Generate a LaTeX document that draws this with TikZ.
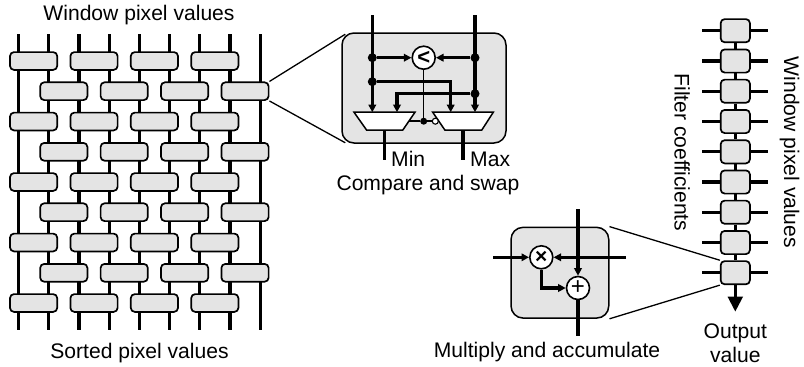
\documentclass[tikz,border=0pt]{standalone}
\usepackage{fontspec}
\setmainfont{Liberation Sans}
\usepackage{xcolor}
\usepackage{tikz}
\usetikzlibrary{arrows.meta,calc,backgrounds}
\definecolor{cell}{HTML}{E4E4E4}
\tikzset{
  wire/.style ={draw=black, line width=3.2pt},
  thin wire/.style={draw=black, line width=1.5pt},
  zoomline/.style={draw=black, line width=1.3pt},
  sbox/.style ={rectangle, draw=black, fill=cell, line width=1.7pt, rounded corners=4pt, minimum width=47.2pt, minimum height=17.8pt, inner sep=0pt},
  mbox/.style ={rectangle, draw=black, fill=cell, line width=1.7pt, rounded corners=4pt, minimum width=29.2pt, minimum height=23.2pt, inner sep=0pt},
  panel/.style={rectangle, draw=black, fill=cell, line width=1.5pt, rounded corners=12pt, inner sep=0pt},
  opnode/.style={circle, draw=black, fill=white, line width=1.6pt, minimum size=23pt, inner sep=0pt},
  jdot/.style ={circle, fill=black, minimum size=9pt, inner sep=0pt},
  bubble/.style={circle, draw=black, fill=white, line width=1.1pt, minimum size=6pt, inner sep=0pt},
  muxshape/.style={draw=black, fill=white, line width=1.5pt, line join=miter},
  lbl/.style ={font=\fontsize{21.1}{23.7}\selectfont, inner sep=0pt},
  >={Triangle[length=7.5pt,width=7.5pt]},
}
\begin{document}
\begin{tikzpicture}[x=1pt,y=-1pt]
\useasboundingbox (0,0) rectangle (804,367);
\coordinate (wt0) at (18.5,34); \coordinate (wb0) at (18.5,330); \draw[wire] (wt0) -- (wb0);
\coordinate (wt1) at (48.7,34); \coordinate (wb1) at (48.7,330); \draw[wire] (wt1) -- (wb1);
\coordinate (wt2) at (78.9,34); \coordinate (wb2) at (78.9,330); \draw[wire] (wt2) -- (wb2);
\coordinate (wt3) at (109.1,34); \coordinate (wb3) at (109.1,330); \draw[wire] (wt3) -- (wb3);
\coordinate (wt4) at (139.3,34); \coordinate (wb4) at (139.3,330); \draw[wire] (wt4) -- (wb4);
\coordinate (wt5) at (169.5,34); \coordinate (wb5) at (169.5,330); \draw[wire] (wt5) -- (wb5);
\coordinate (wt6) at (199.7,34); \coordinate (wb6) at (199.7,330); \draw[wire] (wt6) -- (wb6);
\coordinate (wt7) at (229.9,34); \coordinate (wb7) at (229.9,330); \draw[wire] (wt7) -- (wb7);
\coordinate (wt8) at (260.1,34); \coordinate (wb8) at (260.1,330); \draw[wire] (wt8) -- (wb8);

\node[sbox] (s00) at (33.6,61) {};
\node[sbox] (s01) at (94.0,61) {};
\node[sbox] (s02) at (154.4,61) {};
\node[sbox] (s03) at (214.8,61) {};
\node[sbox] (s10) at (63.8,91.2) {};
\node[sbox] (s11) at (124.2,91.2) {};
\node[sbox] (s12) at (184.6,91.2) {};
\node[sbox] (s13) at (245.0,91.2) {};
\node[sbox] (s20) at (33.6,121.5) {};
\node[sbox] (s21) at (94.0,121.5) {};
\node[sbox] (s22) at (154.4,121.5) {};
\node[sbox] (s23) at (214.8,121.5) {};
\node[sbox] (s30) at (63.8,151.8) {};
\node[sbox] (s31) at (124.2,151.8) {};
\node[sbox] (s32) at (184.6,151.8) {};
\node[sbox] (s33) at (245.0,151.8) {};
\node[sbox] (s40) at (33.6,182) {};
\node[sbox] (s41) at (94.0,182) {};
\node[sbox] (s42) at (154.4,182) {};
\node[sbox] (s43) at (214.8,182) {};
\node[sbox] (s50) at (63.8,212.2) {};
\node[sbox] (s51) at (124.2,212.2) {};
\node[sbox] (s52) at (184.6,212.2) {};
\node[sbox] (s53) at (245.0,212.2) {};
\node[sbox] (s60) at (33.6,242.5) {};
\node[sbox] (s61) at (94.0,242.5) {};
\node[sbox] (s62) at (154.4,242.5) {};
\node[sbox] (s63) at (214.8,242.5) {};
\node[sbox] (s70) at (63.8,272.8) {};
\node[sbox] (s71) at (124.2,272.8) {};
\node[sbox] (s72) at (184.6,272.8) {};
\node[sbox] (s73) at (245.0,272.8) {};
\node[sbox] (s80) at (33.6,303) {};
\node[sbox] (s81) at (94.0,303) {};
\node[sbox] (s82) at (154.4,303) {};
\node[sbox] (s83) at (214.8,303) {};

\coordinate (sl0) at (702,30.7); \coordinate (sr0) at (768,30.7); \draw[wire] (sl0) -- (sr0);
\coordinate (sl1) at (702,61); \coordinate (sr1) at (768,61); \draw[wire] (sl1) -- (sr1);
\coordinate (sl2) at (702,91.2); \coordinate (sr2) at (768,91.2); \draw[wire] (sl2) -- (sr2);
\coordinate (sl3) at (702,121.5); \coordinate (sr3) at (768,121.5); \draw[wire] (sl3) -- (sr3);
\coordinate (sl4) at (702,151.8); \coordinate (sr4) at (768,151.8); \draw[wire] (sl4) -- (sr4);
\coordinate (sl5) at (702,182); \coordinate (sr5) at (768,182); \draw[wire] (sl5) -- (sr5);
\coordinate (sl6) at (702,212.2); \coordinate (sr6) at (768,212.2); \draw[wire] (sl6) -- (sr6);
\coordinate (sl7) at (702,242.5); \coordinate (sr7) at (768,242.5); \draw[wire] (sl7) -- (sr7);
\coordinate (sl8) at (702,272.7); \coordinate (sr8) at (768,272.7); \draw[wire] (sl8) -- (sr8);
\node[mbox] (m0) at (735.3,30.7) {};
\node[mbox] (m1) at (735.3,61) {};
\node[mbox] (m2) at (735.3,91.2) {};
\node[mbox] (m3) at (735.3,121.5) {};
\node[mbox] (m4) at (735.3,151.8) {};
\node[mbox] (m5) at (735.3,182) {};
\node[mbox] (m6) at (735.3,212.2) {};
\node[mbox] (m7) at (735.3,242.5) {};
\node[mbox] (m8) at (735.3,272.7) {};
\draw[wire] (m0) -- (m1);
\draw[wire] (m1) -- (m2);
\draw[wire] (m2) -- (m3);
\draw[wire] (m3) -- (m4);
\draw[wire] (m4) -- (m5);
\draw[wire] (m5) -- (m6);
\draw[wire] (m6) -- (m7);
\draw[wire] (m7) -- (m8);
\coordinate (mout) at (735.3,311.7);
\draw[wire,-{Triangle[length=15pt,width=14.5pt]}] (m8) -- (mout);

\node[panel, minimum width=164pt, minimum height=110pt] (cas) at (424,88) {};
\node[panel, minimum width=97.7pt, minimum height=90.7pt] (mac) at (559.9,272.7) {};
\begin{scope}[on background layer]
\draw[zoomline] (s13.north east) -- ($(cas.north west)+(4,2)$);
\draw[zoomline] (s13.south east) -- ($(cas.south west)+(4,-1)$);
\draw[zoomline] (mac.north east) -- (m8.north west);
\draw[zoomline] (mac.south east) -- (m8.south west);
\end{scope}

\node[opnode, font=\fontsize{22}{22}\selectfont\bfseries] (cmp) at (423.7,57.7) {<};
\coordinate (casl) at (372.3,15);
\coordinate (casr) at (475,15);
\coordinate (mina) at (372.3,112.2);
\coordinate (minb) at (397,112.2);
\coordinate (maxa) at (450.7,112.2);
\coordinate (maxb) at (475,112.2);
\coordinate (minside) at (408.7,121.2);
\coordinate (minfoot) at (384.3,130.2);
\coordinate (maxfoot) at (463,130.2);
\coordinate (minout) at (384.3,160);
\coordinate (maxout) at (463,160);
\draw[muxshape] (354,112.2) -- (415,112.2) -- (402.7,130.2) -- (366.7,130.2) -- cycle;
\draw[muxshape] (432.7,112.2) -- (493.3,112.2) -- (481.7,130.2) -- (445,130.2) -- cycle;
\node[jdot] (ldota) at (372.3,57.7) {};
\node[jdot] (ldotb) at (372.3,81.7) {};
\node[jdot] (rdota) at (475,57.7) {};
\node[jdot] (rdotb) at (475,93.7) {};
\node[jdot, minimum size=7pt] (seldot) at (423.7,121.2) {};
\node[bubble] (sel) at (435.3,121.2) {};
\draw[wire,->] (casl) -- (mina);
\draw[wire,->] (casr) -- (maxb);
\draw[wire,->] (ldota) -- (cmp);
\draw[wire,->] (rdota) -- (cmp);
\draw[wire,->] (ldotb) -| (maxa);
\draw[wire,->] (rdotb) -| (minb);
\draw[thin wire] (cmp) -- (seldot);
\draw[thin wire] (minside) -- (seldot);
\draw[thin wire] (seldot) -- (sel);
\draw[wire] (minfoot) -- (minout);
\draw[wire] (maxfoot) -- (maxout);

\node[opnode, font=\fontsize{21}{21}\selectfont\bfseries] (mult) at (541.3,257.3) {×};
\node[opnode, font=\fontsize{24}{24}\selectfont] (adder) at (578,288) {+};
\coordinate (macl) at (493.3,257.3);
\coordinate (macr) at (626,257.3);
\coordinate (mact) at (578,209.3);
\coordinate (macb) at (578,335.7);
\draw[wire,->] (macl) -- (mult);
\draw[wire,->] (macr) -- (mult);
\draw[wire,->] (mact) -- (adder);
\draw[wire] (adder) -- (macb);
\draw[wire,->] (mult) |- (adder);

\node[lbl, anchor=base] (wintop) at (139,20.7) {Window pixel values};
\node[lbl, anchor=base] (sorted) at (139.5,358) {Sorted pixel values};
\node[lbl, anchor=base west] (minlbl) at (391,166.7) {Min};
\node[lbl, anchor=base west] (maxlbl) at (470,166.7) {Max};
\node[lbl, anchor=base] (caslbl) at (428,190) {Compare and swap};
\node[lbl, anchor=base] (maclbl) at (547,357.7) {Multiply and accumulate};
\node[lbl, align=center] (outlbl) at (735.3,343.5) {Output\\value};
\node[lbl, rotate=-90, anchor=base west] (coef) at (674.7,73.3) {Filter coefficients};
\node[lbl, rotate=-90, anchor=base west] (winside) at (784,56.7) {Window pixel values};
\end{tikzpicture}
\end{document}
